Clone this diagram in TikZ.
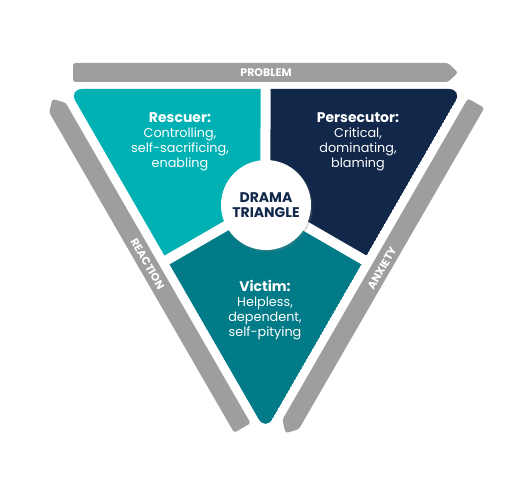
\documentclass[tikz,border=0pt]{standalone}
\usepackage{fontspec}
\setmainfont{Poppins}
\usetikzlibrary{calc,shadows}
\definecolor{rescuerteal}{HTML}{00B1B3}
\definecolor{persecutornavy}{HTML}{12284A}
\definecolor{victimteal}{HTML}{007B87}
\definecolor{bargray}{HTML}{9E9E9E}
\newcommand{\rolehead}[1]{{\bfseries\fontsize{14}{15}\selectfont #1}}
\begin{document}
\begin{tikzpicture}[x=1pt,y=1pt,
  bar/.style={fill=bargray,rounded corners=2.5pt},
  gap/.style={white,line width=10pt},
  role/.style={align=center,text=white,font=\fontsize{12.8}{15}\selectfont},
  barlabel/.style={text=white,font=\bfseries\fontsize{11}{12}\selectfont},
  hub/.style={circle,fill=white,minimum size=90pt,inner sep=0pt,align=center,
    text=persecutornavy,font=\bfseries\fontsize{14}{15}\selectfont,
    drop shadow={shadow xshift=1.5pt,shadow yshift=-2pt,opacity=0.25}}]
\useasboundingbox (0,0) rectangle (523,477);
\coordinate (A) at (68.5,388);
\coordinate (B) at (462.5,388);
\coordinate (C) at (265.5,46);
\coordinate (G) at (barycentric cs:A=1,B=1,C=1);
\coordinate (mAB) at ($(A)!0.5!(B)$);
\coordinate (mAC) at ($(A)!0.5!(C)$);
\coordinate (mBC) at ($(B)!0.5!(C)$);
\begin{scope}
\clip[rounded corners=14pt] (A) -- (B) -- (C) -- cycle;
\fill[rescuerteal] (A) -- (mAB) -- (G) -- (mAC) -- cycle;
\fill[persecutornavy] (B) -- (mBC) -- (G) -- (mAB) -- cycle;
\fill[victimteal] (C) -- (mAC) -- (G) -- (mBC) -- cycle;
\end{scope}
\draw[gap] (G) -- ($(G)!1.05!(mAB)$);
\draw[gap] (G) -- ($(G)!1.05!(mAC)$);
\draw[gap] (G) -- ($(G)!1.05!(mBC)$);
\fill[bar] (73,395) -- (448,395) -- (458,404.5) -- (448,414) -- (73,414) -- cycle;
\begin{scope}[shift={(242.4,49)},rotate=120]
\fill[bar] (0,-9.5) -- (370,-9.5) -- (380,0) -- (370,9.5) -- (0,9.5) -- cycle;
\end{scope}
\begin{scope}[shift={(476.1,373.8)},rotate=240]
\fill[bar] (0,-9.5) -- (371,-9.5) -- (381,0) -- (371,9.5) -- (0,9.5) -- cycle;
\end{scope}
\node[barlabel] (problem) at (266,404.5) {PROBLEM};
\node[barlabel,rotate=-60] (reaction) at (147.5,213) {REACTION};
\node[barlabel,rotate=60] (anxiety) at (382,208.5) {ANXIETY};
\node[role] (rescuer) at (180,335.5) {\rolehead{Rescuer:}\\Controlling,\\self-sacrificing,\\enabling};
\node[role] (persecutor) at (358,335.5) {\rolehead{Persecutor:}\\Critical,\\dominating,\\blaming};
\node[role] (victim) at (265,166.5) {\rolehead{Victim:}\\Helpless,\\dependent,\\self-pitying};
\node[hub] (hub) at (266,272) {DRAMA\\TRIANGLE};
\end{tikzpicture}
\end{document}
